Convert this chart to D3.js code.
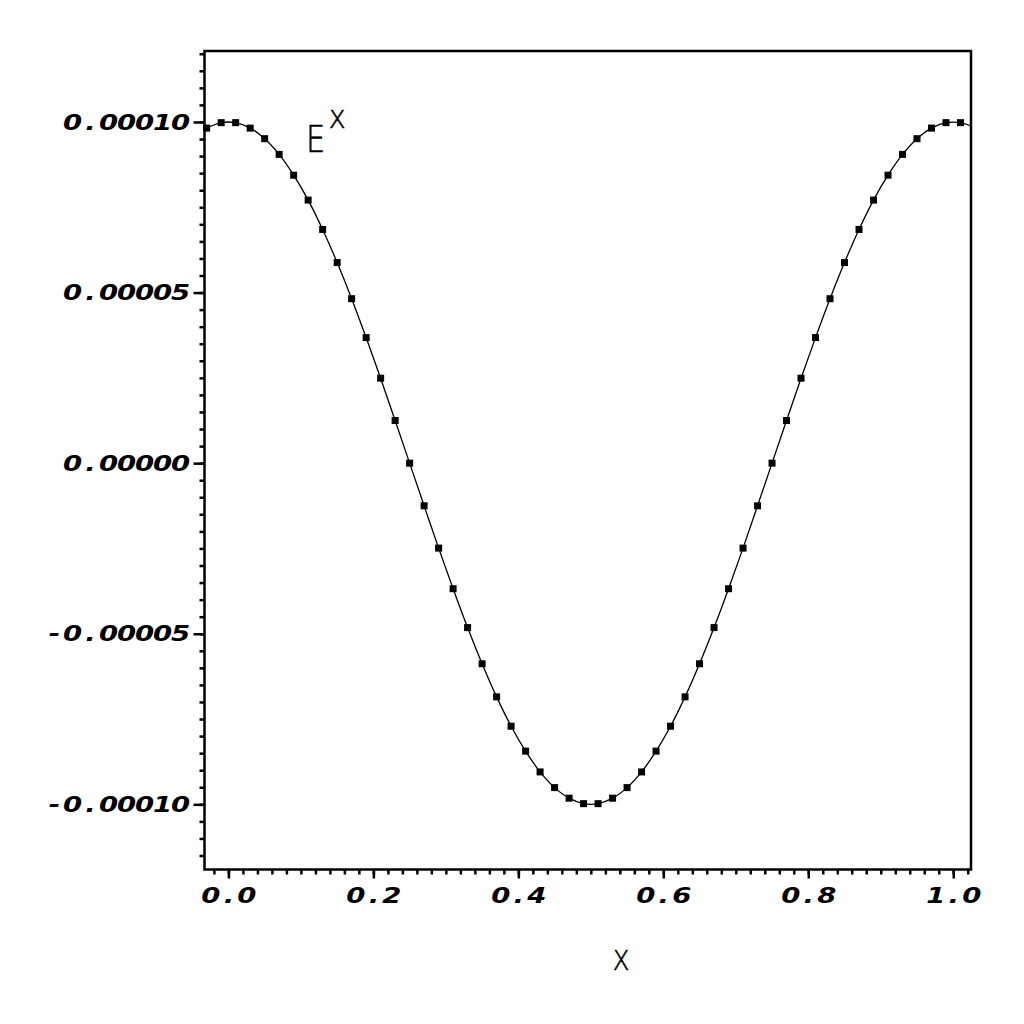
<!DOCTYPE html>
<html lang="en">
<head>
  <meta charset="UTF-8">
  <title>E^x plot</title>
  <script src="https://d3js.org/d3.v7.min.js"></script>
  <style>
    body { margin: 0; background: #fff; }
    .tick-label { font-family: "DejaVu Sans", sans-serif; font-weight: bold; font-style: italic; font-size: 22px; }
    .title { font-family: "DejaVu Sans", sans-serif; font-weight: 200; stroke: #000; stroke-width: 0.6px; fill: #000; }
  </style>
</head>
<body>
  <script>
    // Sample points (x) and values
    const xPoints = [-0.03, -0.01, 0.01, 0.03, 0.05, 0.07, 0.09, 0.11, 0.13, 0.15,
      0.17, 0.19, 0.21, 0.23, 0.25, 0.27, 0.29, 0.31, 0.33, 0.35,
      0.37, 0.39, 0.41, 0.43, 0.45, 0.47, 0.49, 0.51, 0.53, 0.55,
      0.57, 0.59, 0.61, 0.63, 0.65, 0.67, 0.69, 0.71, 0.73, 0.75,
      0.77, 0.79, 0.81, 0.83, 0.85, 0.87, 0.89, 0.91, 0.93, 0.95,
      0.97, 0.99, 1.01];
    const yPoints = [9.82e-5, 9.98e-5, 9.98e-5, 9.82e-5, 9.51e-5, 9.05e-5, 8.44e-5, 7.71e-5, 6.85e-5, 5.88e-5,
      4.82e-5, 3.68e-5, 2.49e-5, 1.25e-5, 0, -1.25e-5, -2.49e-5, -3.68e-5, -4.82e-5, -5.88e-5,
      -6.85e-5, -7.71e-5, -8.44e-5, -9.05e-5, -9.51e-5, -9.82e-5, -9.98e-5, -9.98e-5, -9.82e-5, -9.51e-5,
      -9.05e-5, -8.44e-5, -7.71e-5, -6.85e-5, -5.88e-5, -4.82e-5, -3.68e-5, -2.49e-5, -1.25e-5, 0,
      1.25e-5, 2.49e-5, 3.68e-5, 4.82e-5, 5.88e-5, 6.85e-5, 7.71e-5, 8.44e-5, 9.05e-5, 9.51e-5,
      9.82e-5, 9.98e-5, 9.98e-5];
    // where the curve meets the left and right frame
    const lineStart = [-0.033, 9.79e-5];
    const lineEnd = [1.0245, 9.88e-5];

    const xTicks = [0, 0.2, 0.4, 0.6, 0.8, 1.0];
    const yTicks = [-0.0001, -0.00005, 0, 0.00005, 0.0001];

    const width = 1024, height = 1024;
    const plotLeft = 204.5, plotRight = 971, plotTop = 51, plotBottom = 869.5;
    const cell = 18;     // fixed character pitch of the tick labels
    const stretch = 1.25; // tick label glyphs are wide

    const svg = d3.select("body").append("svg")
      .attr("width", width)
      .attr("height", height);

    const x = d3.scaleLinear().domain([-0.033, 1.0245]).range([plotLeft, plotRight]);
    const y = d3.scaleLinear().domain([-0.0001191, 0.0001208]).range([plotBottom, plotTop]);

    // lay tick label characters out on a fixed pitch
    function monoText(sel, align) {
      sel.each(function(d) {
        const t = d3.select(this);
        const s = t.text();
        const n = s.length;
        const x0 = +t.attr("x") || 0;
        t.text(null)
          .attr("text-anchor", "middle")
          .attr("class", "tick-label")
          .attr("fill", "#000")
          .attr("transform", `scale(${stretch},1)`);
        s.split("").forEach((c, i) => {
          const cx = align === "end" ? x0 - (n - 1 - i) * cell - cell / 2 : x0 + (i - (n - 1) / 2) * cell;
          t.append("tspan").attr("x", cx / stretch).text(c);
        });
      });
    }

    // minor ticks
    const xMinor = d3.range(-0.02, 1.021, 0.02);
    const yMinor = d3.range(-0.000115, 0.000121, 0.000005);

    svg.append("g")
      .attr("transform", `translate(0,${plotBottom})`)
      .call(d3.axisBottom(x).tickValues(xMinor).tickSize(5).tickFormat(""))
      .call(g => g.select(".domain").remove())
      .selectAll("line").attr("stroke-width", 2.5);

    svg.append("g")
      .attr("transform", `translate(${plotLeft},0)`)
      .call(d3.axisLeft(y).tickValues(yMinor).tickSize(5).tickFormat(""))
      .call(g => g.select(".domain").remove())
      .selectAll("line").attr("stroke-width", 2.5);

    // major ticks with labels
    const xAxis = svg.append("g")
      .attr("transform", `translate(0,${plotBottom})`)
      .call(d3.axisBottom(x).tickValues(xTicks).tickSize(9).tickPadding(8.5).tickFormat(d => d.toFixed(1)))
      .call(g => g.select(".domain").remove());
    xAxis.selectAll("line").attr("stroke-width", 2.5);
    xAxis.selectAll("text").call(monoText, "middle");

    const yAxis = svg.append("g")
      .attr("transform", `translate(${plotLeft},0)`)
      .call(d3.axisLeft(y).tickValues(yTicks).tickSize(11).tickPadding(4).tickFormat(d => d.toFixed(5)))
      .call(g => g.select(".domain").remove());
    yAxis.selectAll("line").attr("stroke-width", 2.5);
    yAxis.selectAll("text").call(monoText, "end");

    // frame
    svg.append("rect")
      .attr("x", plotLeft).attr("y", plotTop)
      .attr("width", plotRight - plotLeft).attr("height", plotBottom - plotTop)
      .attr("fill", "none").attr("stroke", "#000").attr("stroke-width", 2.5);

    // curve
    const pts = xPoints.map((v, i) => [v, yPoints[i]]);
    const linePts = [lineStart, ...pts, lineEnd];
    svg.append("path")
      .datum(linePts)
      .attr("fill", "none")
      .attr("stroke", "#000")
      .attr("stroke-width", 1.3)
      .attr("d", d3.line().x(d => x(d[0])).y(d => y(d[1])).curve(d3.curveCatmullRom));

    // point markers
    svg.append("g").selectAll("rect")
      .data(pts)
      .join("rect")
      .attr("x", d => x(d[0]) - 3.5)
      .attr("y", d => y(d[1]) - 3.5)
      .attr("width", 7).attr("height", 7)
      .attr("fill", "#000");

    // title E^X
    svg.append("text")
      .attr("class", "title")
      .attr("transform", "translate(306,152) scale(0.8,1)")
      .attr("font-size", 38)
      .text("E");
    svg.append("text")
      .attr("class", "title")
      .attr("x", 329).attr("y", 128)
      .attr("font-size", 24)
      .text("X");

    // x-axis label
    svg.append("text")
      .attr("class", "title")
      .attr("transform", "translate(621,970) scale(0.9,1)")
      .attr("text-anchor", "middle")
      .attr("font-size", 27)
      .text("X");
  </script>
</body>
</html>
